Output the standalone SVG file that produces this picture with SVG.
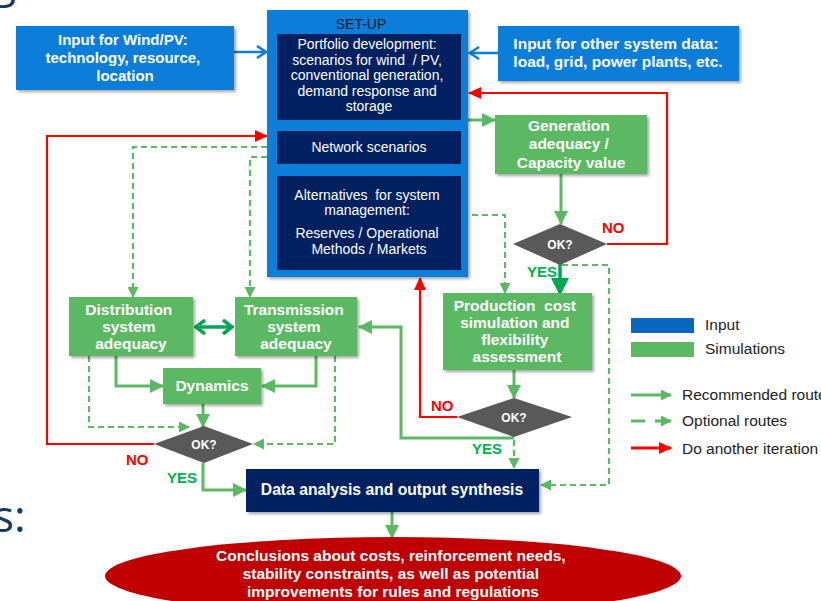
<svg xmlns="http://www.w3.org/2000/svg" width="821" height="601" viewBox="0 0 821 601">
  <defs>
    <style>
      .bold { font-family: "Liberation Sans", Arial, sans-serif; font-weight: bold; }
      .reg { font-family: "Liberation Sans", Arial, sans-serif; }
      .wt { fill: #ffffff; }
      .inp { fill: #0b7dda; }
      .navy { fill: #002060; }
      .sim { fill: #5cb963; }
      .dia { fill: #595959; }
      .ok { font-family: "Liberation Sans", Arial, sans-serif; font-weight: bold; font-size: 12px; fill: #ffffff; text-anchor: middle; }
      .rec { fill: none; stroke: #5cb963; stroke-width: 3; }
      .opt { fill: none; stroke: #5cb963; stroke-width: 2.2; stroke-dasharray: 6 4; }
      .iter { fill: none; stroke: #ff0000; stroke-width: 2.2; }
      .feed { fill: none; stroke: #0b7dda; stroke-width: 2.5; }
      .strong { fill: none; stroke: #00a650; stroke-width: 3.5; }
      .no { font-family: "Liberation Sans", Arial, sans-serif; font-weight: bold; font-size: 15px; fill: #ff0000; }
      .yes { font-family: "Liberation Sans", Arial, sans-serif; font-weight: bold; font-size: 15px; fill: #00b050; }
      .leg { font-family: "Liberation Sans", Arial, sans-serif; font-size: 15.5px; fill: #222222; }
    </style>
    <filter id="shadow" x="-10%" y="-10%" width="130%" height="140%">
      <feDropShadow dx="2" dy="2" stdDeviation="1.5" flood-color="#000000" flood-opacity="0.35"/>
    </filter>
    <marker id="hg" markerUnits="userSpaceOnUse" markerWidth="14" markerHeight="14" refX="13" refY="7" orient="auto">
      <path d="M0,0 L14,7 L0,14 z" fill="#5cb963"/>
    </marker>
    <marker id="hgd" markerUnits="userSpaceOnUse" markerWidth="11" markerHeight="11" refX="10" refY="5.5" orient="auto">
      <path d="M0,0 L11,5.5 L0,11 z" fill="#5cb963"/>
    </marker>
    <marker id="hr" markerUnits="userSpaceOnUse" markerWidth="13" markerHeight="12" refX="12" refY="6" orient="auto">
      <path d="M0,0 L13,6 L0,12 z" fill="#ff0000"/>
    </marker>
    <marker id="hb" markerUnits="userSpaceOnUse" markerWidth="12" markerHeight="14" refX="10" refY="7" orient="auto">
      <path d="M1,1 L10,7 L1,13" fill="none" stroke="#0b7dda" stroke-width="2.5"/>
    </marker>
    <marker id="hk" markerUnits="userSpaceOnUse" markerWidth="18" markerHeight="18" refX="16" refY="9" orient="auto">
      <path d="M0,0 L18,9 L0,18 z" fill="#00a650"/>
    </marker>
    <marker id="hc" markerUnits="userSpaceOnUse" markerWidth="12" markerHeight="16" refX="10" refY="8" orient="auto-start-reverse">
      <path d="M1,1 L10,8 L1,15" fill="none" stroke="#00a650" stroke-width="3.5"/>
    </marker>
  </defs>

  <rect width="821" height="601" fill="#ffffff"/>

  <!-- slide title / bullet fragments at the edges -->
  <text x="-8" y="-3" font-family="'Open Sans', sans-serif" font-size="44" fill="#17375e">g</text>
  <text x="-7" y="532" font-family="'Open Sans', sans-serif" font-size="44" fill="#17375e">s:</text>

  <!-- connectors -->
  <g id="connectors">
    <path class="feed" d="M234,52 H266" marker-end="url(#hb)"/>
    <path class="feed" d="M498,53 H470" marker-end="url(#hb)"/>
    <path class="iter" d="M607,244 H667 V93 H469" marker-end="url(#hr)"/>
    <path class="rec" d="M468,120 H495" marker-end="url(#hg)"/>
    <path class="rec" d="M561,174 V224" marker-end="url(#hg)"/>
    <path class="strong" d="M560,264 V294" marker-end="url(#hk)"/>
    <path class="opt" d="M562,265 H609 V485 H541" marker-end="url(#hgd)"/>
    <path class="opt" d="M462,215 H505 V293" marker-end="url(#hgd)"/>
    <path class="rec" d="M514,370 V398" marker-end="url(#hg)"/>
    <path class="iter" d="M457,417 H420 V278" marker-end="url(#hr)"/>
    <path class="rec" d="M514,438 H401 V327 H359" marker-end="url(#hg)"/>
    <path class="opt" d="M514,440 V468" marker-end="url(#hgd)"/>
    <path class="rec" d="M116,356 V386 H163" marker-end="url(#hg)"/>
    <path class="rec" d="M316,356 V386 H262" marker-end="url(#hg)"/>
    <path class="rec" d="M203,404 V427" marker-end="url(#hg)"/>
    <path class="opt" d="M89,356 V427 H189" marker-end="url(#hgd)"/>
    <path class="opt" d="M335,356 V444 H254" marker-end="url(#hgd)"/>
    <path class="iter" d="M154,444 H47 V136 H267" marker-end="url(#hr)"/>
    <path class="rec" d="M203,463 V490 H246" marker-end="url(#hg)"/>
    <path class="opt" d="M267,147 H133 V297" marker-end="url(#hgd)"/>
    <path class="opt" d="M267,157 H250 V297" marker-end="url(#hgd)"/>
    <path class="rec" d="M392,512 V538" marker-end="url(#hg)"/>
    <path class="strong" d="M196,327 H232" marker-start="url(#hc)" marker-end="url(#hc)"/>
  </g>

  <!-- inputs -->
  <g id="input-wind-pv">
    <rect class="inp" x="16" y="26" width="218" height="64" filter="url(#shadow)"/>
    <text class="bold wt" font-size="15" text-anchor="middle">
      <tspan x="125" y="45">Input for Wind/PV:</tspan>
      <tspan x="125" y="63">technology, resource,</tspan>
      <tspan x="125" y="81">location</tspan>
    </text>
  </g>
  <g id="input-system-data">
    <rect class="inp" x="498" y="26" width="241" height="55" filter="url(#shadow)"/>
    <text class="bold wt" font-size="15.5" text-anchor="middle">
      <tspan x="618" y="49">Input for other system data:</tspan>
      <tspan x="618" y="67">load, grid, power plants, etc.</tspan>
    </text>
  </g>

  <!-- set-up block -->
  <g id="setup">
    <rect class="inp" x="267" y="10" width="201" height="267" filter="url(#shadow)"/>
    <text class="reg" font-size="14" fill="#1a1a2e" text-anchor="middle" x="361" y="29">SET-UP</text>
    <rect class="navy" x="277" y="34" width="184" height="86"/>
    <text class="reg wt" font-size="14" text-anchor="middle">
      <tspan x="369" y="49">Portfolio development:</tspan>
      <tspan x="369" y="65">scenarios for wind&#160; / PV,</tspan>
      <tspan x="369" y="80">conventional generation,</tspan>
      <tspan x="369" y="96">demand response and</tspan>
      <tspan x="369" y="111">storage</tspan>
    </text>
    <rect class="navy" x="277" y="131" width="184" height="33"/>
    <text class="reg wt" font-size="14" text-anchor="middle" x="369" y="152">Network scenarios</text>
    <rect class="navy" x="277" y="176" width="184" height="94"/>
    <text class="reg wt" font-size="14" text-anchor="middle">
      <tspan x="369" y="200">Alternatives&#160; for system</tspan>
      <tspan x="369" y="215">management:</tspan>
      <tspan x="369" y="238">Reserves / Operational</tspan>
      <tspan x="369" y="254">Methods / Markets</tspan>
    </text>
  </g>

  <!-- simulations -->
  <g id="generation-adequacy">
    <rect class="sim" x="495" y="115" width="152" height="59" filter="url(#shadow)"/>
    <text class="bold wt" font-size="15.5" text-anchor="middle">
      <tspan x="571" y="131">Generation</tspan>
      <tspan x="571" y="149">adequacy /</tspan>
      <tspan x="571" y="168">Capacity value</tspan>
    </text>
  </g>
  <g id="production-cost">
    <rect class="sim" x="443" y="293" width="149" height="77" filter="url(#shadow)"/>
    <text class="bold wt" font-size="15.5" text-anchor="middle">
      <tspan x="517" y="311">Production&#160; cost</tspan>
      <tspan x="517" y="328">simulation and</tspan>
      <tspan x="517" y="345">flexibility</tspan>
      <tspan x="517" y="362">assessment</tspan>
    </text>
  </g>
  <g id="distribution-adequacy">
    <rect class="sim" x="69" y="297" width="124" height="59" filter="url(#shadow)"/>
    <text class="bold wt" font-size="15.5" text-anchor="middle">
      <tspan x="131" y="315">Distribution</tspan>
      <tspan x="131" y="332">system</tspan>
      <tspan x="131" y="349">adequacy</tspan>
    </text>
  </g>
  <g id="transmission-adequacy">
    <rect class="sim" x="235" y="297" width="122" height="59" filter="url(#shadow)"/>
    <text class="bold wt" font-size="15.5" text-anchor="middle">
      <tspan x="296" y="315">Transmission</tspan>
      <tspan x="296" y="332">system</tspan>
      <tspan x="296" y="349">adequacy</tspan>
    </text>
  </g>
  <g id="dynamics">
    <rect class="sim" x="163" y="368" width="98" height="36" filter="url(#shadow)"/>
    <text class="bold wt" font-size="15.5" text-anchor="middle" x="212" y="391">Dynamics</text>
  </g>

  <!-- decisions -->
  <g id="check-generation">
    <polygon class="dia" points="513,244 560,224 607,244 560,265"/>
    <text class="ok" x="560" y="249">OK?</text>
    <text class="no" x="602" y="233">NO</text>
    <text class="yes" x="527" y="277">YES</text>
  </g>
  <g id="check-production">
    <polygon class="dia" points="457,417 514,398 572,417 514,437"/>
    <text class="ok" x="514" y="422">OK?</text>
    <text class="no" x="431" y="411">NO</text>
    <text class="yes" x="472" y="454">YES</text>
  </g>
  <g id="check-network">
    <polygon class="dia" points="154,444 204,426 253,444 204,463"/>
    <text class="ok" x="204" y="449">OK?</text>
    <text class="no" x="126" y="465">NO</text>
    <text class="yes" x="167" y="483">YES</text>
  </g>

  <!-- output -->
  <g id="data-analysis">
    <rect class="navy" x="246" y="469" width="293" height="43" filter="url(#shadow)"/>
    <text class="bold wt" font-size="15.7" text-anchor="middle" x="392" y="495">Data analysis and output synthesis</text>
  </g>
  <g id="conclusions">
    <ellipse cx="393" cy="576" rx="288" ry="39" fill="#c00000"/>
    <text class="bold wt" font-size="15.5" text-anchor="middle">
      <tspan x="393" y="561">Conclusions about costs, reinforcement needs,</tspan>
      <tspan x="393" y="579">stability constraints, as well as potential</tspan>
      <tspan x="393" y="597">improvements for rules and regulations</tspan>
    </text>
  </g>

  <!-- legend -->
  <g id="legend">
    <rect x="631" y="318" width="63" height="15" fill="#0b66c0"/>
    <text class="leg" x="705" y="330">Input</text>
    <rect x="631" y="342" width="63" height="15" fill="#5cb963"/>
    <text class="leg" x="705" y="354">Simulations</text>
    <path d="M631,395 H671" fill="none" stroke="#5cb963" stroke-width="3" marker-end="url(#hgd)"/>
    <text class="leg" x="682" y="400">Recommended route</text>
    <path d="M631,421 H645 M655,421 H671" fill="none" stroke="#5cb963" stroke-width="3" marker-end="url(#hgd)"/>
    <text class="leg" x="682" y="426">Optional routes</text>
    <path d="M631,448 H671" fill="none" stroke="#ff0000" stroke-width="3" marker-end="url(#hr)"/>
    <text class="leg" x="682" y="454">Do another iteration</text>
  </g>
</svg>
